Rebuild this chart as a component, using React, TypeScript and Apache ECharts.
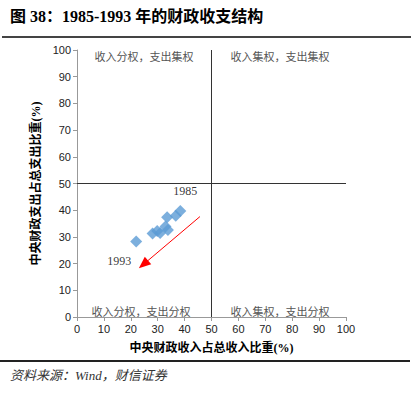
import React, { useEffect, useRef } from "react";
import * as echarts from "echarts";

const years = ["1985", "1986", "1987", "1988", "1989", "1990", "1991", "1992", "1993"];
const revenueShare = [38.4, 36.7, 33.5, 32.9, 30.9, 33.8, 29.8, 28.1, 22.0];
const expenditureShare = [39.7, 37.9, 37.4, 33.9, 31.5, 32.6, 32.2, 31.3, 28.3];
const arrowFrom = [45.7, 37.6];
const arrowTo = [24.7, 19.7];
const quadrantLabels = ["收入分权，支出集权", "收入集权，支出集权", "收入分权，支出分权", "收入集权，支出分权"];

const SERIF = "'Liberation Serif', 'Noto Sans CJK SC', serif";
const SANS = "'Liberation Sans', Arial, sans-serif";

export default function App() {
  const ref = useRef<HTMLDivElement>(null);
  useEffect(() => {
    const chart = echarts.init(ref.current!, undefined, { renderer: "svg" });
    const lbl = { fontFamily: SERIF, fontSize: 12, color: "#000" };
    const data = years.map((y, i) => {
      const item: any = { value: [revenueShare[i], expenditureShare[i], y] };
      if (i === 0) {
        item.label = { ...lbl, show: true, position: "top", offset: [5, -3], formatter: y };
      } else if (i === years.length - 1) {
        item.label = { ...lbl, show: true, position: "bottom", offset: [-17, 3], formatter: y };
      }
      return item;
    });
    const qStyle = { fontFamily: SERIF, fontSize: 11, fill: "#555" };
    const nameStyle = { fontFamily: SERIF, fontWeight: "bold", fontSize: 12, color: "#000" };
    chart.setOption({
      animation: false,
      grid: { left: 77, right: 67, top: 50, bottom: 79 },
      xAxis: {
        type: "value",
        min: 0,
        max: 100,
        interval: 10,
        name: "中央财政收入占总收入比重(%)",
        nameLocation: "middle",
        nameGap: 25,
        nameTextStyle: nameStyle,
        axisLine: { lineStyle: { color: "#999" } },
        axisTick: { show: true, length: 4, lineStyle: { color: "#999" } },
        axisLabel: { fontFamily: SANS, fontSize: 11, color: "#222", margin: 6 },
        splitLine: { show: false },
      },
      yAxis: {
        type: "value",
        min: 0,
        max: 100,
        interval: 10,
        name: "中央财政支出占总支出比重(%)",
        nameLocation: "middle",
        nameGap: 27,
        nameRotate: 90,
        nameTextStyle: nameStyle,
        axisLine: { show: true, lineStyle: { color: "#999" } },
        axisTick: { show: true, length: 4, lineStyle: { color: "#999" } },
        axisLabel: { fontFamily: SANS, fontSize: 11, color: "#222", margin: 6 },
        splitLine: { show: false },
      },
      series: [
        {
          type: "scatter",
          symbol: "diamond",
          symbolSize: 12,
          itemStyle: { color: "#5B9BD5" },
          label: lbl,
          data,
          markLine: {
            silent: true,
            symbol: ["none", "none"],
            label: { show: false },
            lineStyle: { color: "#333", type: "solid", width: 1 },
            data: [{ xAxis: 50 }, { yAxis: 50 }],
          },
        },
        {
          type: "scatter",
          data: [],
          markLine: {
            silent: true,
            symbol: ["none", "triangle"],
            symbolSize: [10, 12],
            label: { show: false },
            lineStyle: { color: "#FF0000", type: "solid", width: 1 },
            data: [[{ coord: arrowFrom }, { coord: arrowTo }]],
          },
        },
      ],
      graphic: [
        { type: "text", left: 10, top: 8, style: { text: "图 38：1985-1993 年的财政收支结构", font: `bold 16px ${SERIF}`, fill: "#000" } },
        { type: "rect", shape: { x: 2, y: 36, width: 409, height: 2 }, style: { fill: "#444" } },
        { type: "text", x: 144, y: 57, style: { ...qStyle, text: quadrantLabels[0], textAlign: "center", textVerticalAlign: "middle" } },
        { type: "text", x: 280, y: 57, style: { ...qStyle, text: quadrantLabels[1], textAlign: "center", textVerticalAlign: "middle" } },
        { type: "text", x: 141, y: 312, style: { ...qStyle, text: quadrantLabels[2], textAlign: "center", textVerticalAlign: "middle" } },
        { type: "text", x: 280, y: 312, style: { ...qStyle, text: quadrantLabels[3], textAlign: "center", textVerticalAlign: "middle" } },
        { type: "rect", shape: { x: 0, y: 360, width: 410, height: 2 }, style: { fill: "#222" } },
        { type: "text", left: 10, top: 369, style: { text: "资料来源：Wind，财信证券", font: `italic 13px ${SERIF}`, fill: "#333" } },
      ],
    });
    return () => chart.dispose();
  }, []);
  return <div ref={ref} style={{ position: "fixed", left: 0, top: 0, width: 413, height: 396, background: "#fff" }} />;
}
